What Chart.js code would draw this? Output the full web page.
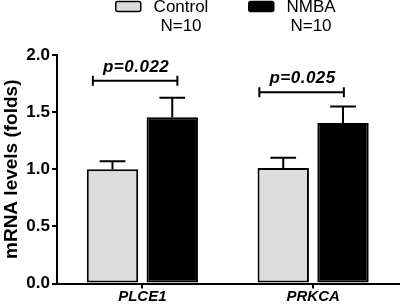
<!DOCTYPE html>
<html>
<head>
<meta charset="utf-8">
<script src="https://cdn.jsdelivr.net/npm/chart.js@4"></script>
<style>
  body { margin: 0; background: #fff; }
  #wrap { width: 400px; height: 305px; }
</style>
</head>
<body>
<div id="wrap"><canvas id="barChart"></canvas></div>
<script>
// data
var genes = ['PLCE1', 'PRKCA'];
var controlMean = [1.00, 1.01];
var controlErr = [0.07, 0.09];
var nmbaMean = [1.455, 1.405];
var nmbaErr = [0.17, 0.145];
var yTicks = [0, 0.5, 1.0, 1.5, 2.0];

// significance brackets (x in category units, y in data units)
var pLabels = ['p=0.022', 'p=0.025'];
var bracketY = [1.775, 1.675];
var bracketFrom = [-0.29, 0.685];
var bracketTo = [0.205, 1.18];

var legendNames = ['Control', 'NMBA'];
var legendSub = ['N=10', 'N=10'];
var groupColors = ['#dcdcdc', '#000000'];

var FONT = "'Liberation Sans', Arial, Helvetica, sans-serif";

var extras = {
    id: 'extras',
    afterDatasetsDraw: function (chart) {
        var ctx = chart.ctx;
        var xs = chart.scales.x, ys = chart.scales.y;
        var errs = [controlErr, nmbaErr];
        ctx.save();
        ctx.strokeStyle = '#000';
        ctx.lineWidth = 2;
        // error bars, upper side only
        chart.data.datasets.forEach(function (ds, di) {
            var meta = chart.getDatasetMeta(di);
            meta.data.forEach(function (bar, i) {
                var top = ys.getPixelForValue(ds.data[i] + errs[di][i]);
                var half = bar.width / 4;
                ctx.beginPath();
                ctx.moveTo(bar.x, bar.y);
                ctx.lineTo(bar.x, top);
                ctx.moveTo(bar.x - half, top);
                ctx.lineTo(bar.x + half, top);
                ctx.stroke();
            });
        });
        // brackets + p values
        var x0 = xs.getPixelForValue(0), step = xs.getPixelForValue(1) - x0;
        ctx.fillStyle = '#000';
        ctx.font = 'italic bold 17px ' + FONT;
        ctx.letterSpacing = '0.5px';
        ctx.textAlign = 'center';
        ctx.textBaseline = 'alphabetic';
        for (var i = 0; i < pLabels.length; i++) {
            var a = x0 + bracketFrom[i] * step;
            var b = x0 + bracketTo[i] * step;
            var y = ys.getPixelForValue(bracketY[i]);
            ctx.beginPath();
            ctx.moveTo(a, y); ctx.lineTo(b, y);
            ctx.moveTo(a, y - 5); ctx.lineTo(a, y + 5);
            ctx.moveTo(b, y - 5); ctx.lineTo(b, y + 5);
            ctx.stroke();
            ctx.fillText(pLabels[i], (a + b) / 2 + 1, y - 9);
        }
        ctx.restore();
    },
    afterDraw: function (chart) {
        var ctx = chart.ctx;
        var boxX = [115, 248], textX = [181, 311];
        ctx.save();
        ctx.font = '17px ' + FONT;
        ctx.textAlign = 'center';
        ctx.textBaseline = 'middle';
        for (var i = 0; i < legendNames.length; i++) {
            ctx.fillStyle = groupColors[i];
            ctx.strokeStyle = '#000';
            ctx.lineWidth = 1.5;
            ctx.beginPath();
            ctx.roundRect(boxX[i] + 0.75, 1.5, 25, 10, 2);
            ctx.fill();
            ctx.stroke();
            ctx.fillStyle = '#000';
            ctx.fillText(legendNames[i], textX[i], 7);
            ctx.fillText(legendSub[i], textX[i], 26);
        }
        ctx.restore();
    }
};

var ctx = document.getElementById('barChart').getContext('2d');
var barChart = new Chart(ctx, {
    type: 'bar',
    data: {
        labels: genes,
        datasets: [{
            label: legendNames[0],
            data: controlMean,
            backgroundColor: groupColors[0],
            borderColor: '#000',
            borderWidth: 2,
            borderSkipped: false
        }, {
            label: legendNames[1],
            data: nmbaMean,
            backgroundColor: groupColors[1],
            borderColor: '#000',
            borderWidth: 2,
            borderSkipped: false
        }]
    },
    options: {
        responsive: true,
        maintainAspectRatio: false,
        animation: false,
        categoryPercentage: 0.7,
        barPercentage: 0.86,
        layout: { padding: { top: 55, right: 1.5, left: 0, bottom: 0 } },
        plugins: { legend: { display: false }, tooltip: { enabled: false } },
        scales: {
            x: {
                offset: true,
                grid: { offset: false, drawOnChartArea: false, tickLength: 5, color: '#000', lineWidth: 2 },
                border: { color: '#000', width: 2 },
                ticks: { color: '#000', padding: 0, font: { family: FONT, size: 15, weight: 'bold', style: 'italic', lineHeight: 1.1 } }
            },
            y: {
                min: 0, max: 2,
                afterBuildTicks: function (scale) {
                    scale.ticks = yTicks.map(function (v) { return { value: v }; });
                },
                afterFit: function (scale) { scale.width = 57; },
                grid: { drawOnChartArea: false, tickLength: 5, color: '#000', lineWidth: 2 },
                border: { color: '#000', width: 2 },
                ticks: {
                    color: '#000', padding: 2,
                    font: { family: FONT, size: 17, weight: 'bold' },
                    callback: function (v) { return Number(v).toFixed(1); }
                },
                title: {
                    display: true, text: 'mRNA levels (folds)', color: '#000', padding: 0,
                    font: { family: FONT, size: 19, weight: 'bold' }
                }
            }
        }
    },
    plugins: [extras]
});
</script>
</body>
</html>
